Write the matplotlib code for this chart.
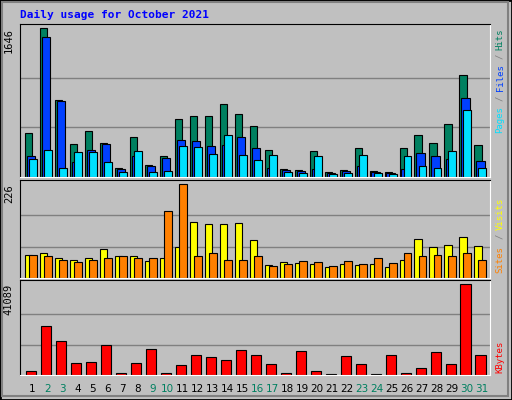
import matplotlib
matplotlib.use("Agg")
import matplotlib.pyplot as plt
from matplotlib.patches import Rectangle
import numpy as np

days = [str(d) for d in range(1, 32)]
weekend = {2, 3, 9, 10, 16, 17, 23, 24, 30, 31}
hits = [483, 1646, 849, 370, 504, 381, 101, 437, 134, 235, 638, 672, 672, 806, 694, 560, 302, 90, 78, 291, 56, 78, 325, 67, 56, 325, 459, 381, 582, 1131, 358]
files = [235, 1545, 838, 168, 302, 369, 90, 235, 123, 213, 414, 403, 347, 358, 437, 325, 101, 78, 67, 90, 45, 67, 123, 56, 45, 90, 269, 235, 201, 873, 179]
pages = [201, 302, 101, 280, 280, 168, 56, 291, 56, 67, 347, 336, 257, 459, 246, 190, 246, 56, 45, 235, 34, 45, 246, 45, 34, 235, 123, 101, 291, 739, 101]
visits = [56, 61, 49, 44, 49, 69, 52, 54, 42, 47, 74, 135, 130, 130, 133, 91, 32, 39, 37, 34, 27, 34, 32, 34, 27, 44, 93, 74, 79, 98, 76]
sites = [56, 54, 44, 39, 44, 49, 54, 49, 47, 162, 226, 54, 59, 44, 44, 54, 29, 34, 42, 39, 29, 42, 34, 47, 37, 61, 52, 56, 52, 61, 44]
kbytes = [1806, 22125, 15353, 5418, 5869, 13546, 903, 5418, 11740, 903, 4515, 9030, 8127, 6773, 11289, 9030, 4967, 903, 10837, 1806, 452, 8579, 4967, 452, 9030, 903, 3161, 10386, 4967, 41089, 9030]

BG = "#C0C0C0"
fig = plt.figure(figsize=(5.12, 4.0), dpi=100, facecolor=BG)
W, H = 512, 400
def ax_at(x0, y0, x1, y1):
    return fig.add_axes([x0 / W, 1 - y1 / H, (x1 - x0) / W, (y1 - y0) / H])

x = np.arange(31)
panels = [
    (24, 177, [(hits, 0.0, 0.5, "#008060"), (files, 0.13, 0.55, "#0040FF"), (pages, 0.27, 0.53, "#00E0FF")]),
    (180, 278, [(visits, 0.0, 0.5, "#FFFF00"), (sites, 0.27, 0.53, "#FF8000")]),
    (280, 375, [(kbytes, 0.07, 0.7, "#FF0000")]),
]
tops = [1646, 226, 41089]
for (y0, y1, series), top in zip(panels, tops):
    ax = ax_at(20, y0, 490, y1)
    ax.set_facecolor(BG)
    frac = (y1 - y0 - 4) / (y1 - y0)
    ymax = top / frac
    ax.set_xlim(-0.33, 31.04)
    ax.set_ylim(0, ymax)
    for g in (top / 3, 2 * top / 3):
        ax.axhline(g, color="#808080", lw=1, zorder=0)
    for vals, off, w, c in series:
        ax.bar(x + off, vals, width=w, align="edge", color=c, edgecolor="black", lw=0.8, zorder=2)
    ax.set_xticks([]); ax.set_yticks([])
    for s in ax.spines.values():
        s.set_color("black")
    ax.spines["right"].set_color("white"); ax.spines["bottom"].set_color("white")
    ax.text(-0.013, top / ymax, str(top), transform=ax.transAxes, rotation=90,
            ha="right", va="top", fontsize=7.5, family="DejaVu Sans Mono")

fig.text(20 / W, 1 - 15 / H, "Daily usage for October 2021", color="#0000FF",
         fontsize=8, weight="bold", family="DejaVu Sans Mono", va="center")

for i, d in enumerate(days):
    fig.text((20 + (0.33 + i + 0.5) * 470 / 31.37) / W, 1 - 389 / H, d, ha="center", va="center",
             fontsize=7.5, color="#008060" if (i + 1) in weekend else "black")

def rlab(parts):
    for txt, ytop, c in parts:
        fig.text(500 / W, 1 - ytop / H, txt, rotation=90, ha="center", va="top",
                 color=c, fontsize=6.5, family="DejaVu Sans Mono")
rlab([("Hits", 28, "#008060"), ("/", 54, "#808080"), ("Files", 64, "#0040FF"),
      ("/", 96, "#808080"), ("Pages", 106, "#00E0FF"),
      ("Visits", 198, "#FFFF00"), ("/", 234, "#808080"), ("Sites", 246, "#FF8000"),
      ("KBytes", 341, "#FF0000")])

fig.patches.append(Rectangle((0, 0), 1, 1, transform=fig.transFigure, fill=False,
                             edgecolor="black", lw=2))
fig.patches.append(Rectangle((2 / W, 4 / H), 506 / W, 394 / H, transform=fig.transFigure, fill=False,
                             edgecolor="#808080", lw=1.5))
fig.savefig("out.png", dpi=100, facecolor=BG)
